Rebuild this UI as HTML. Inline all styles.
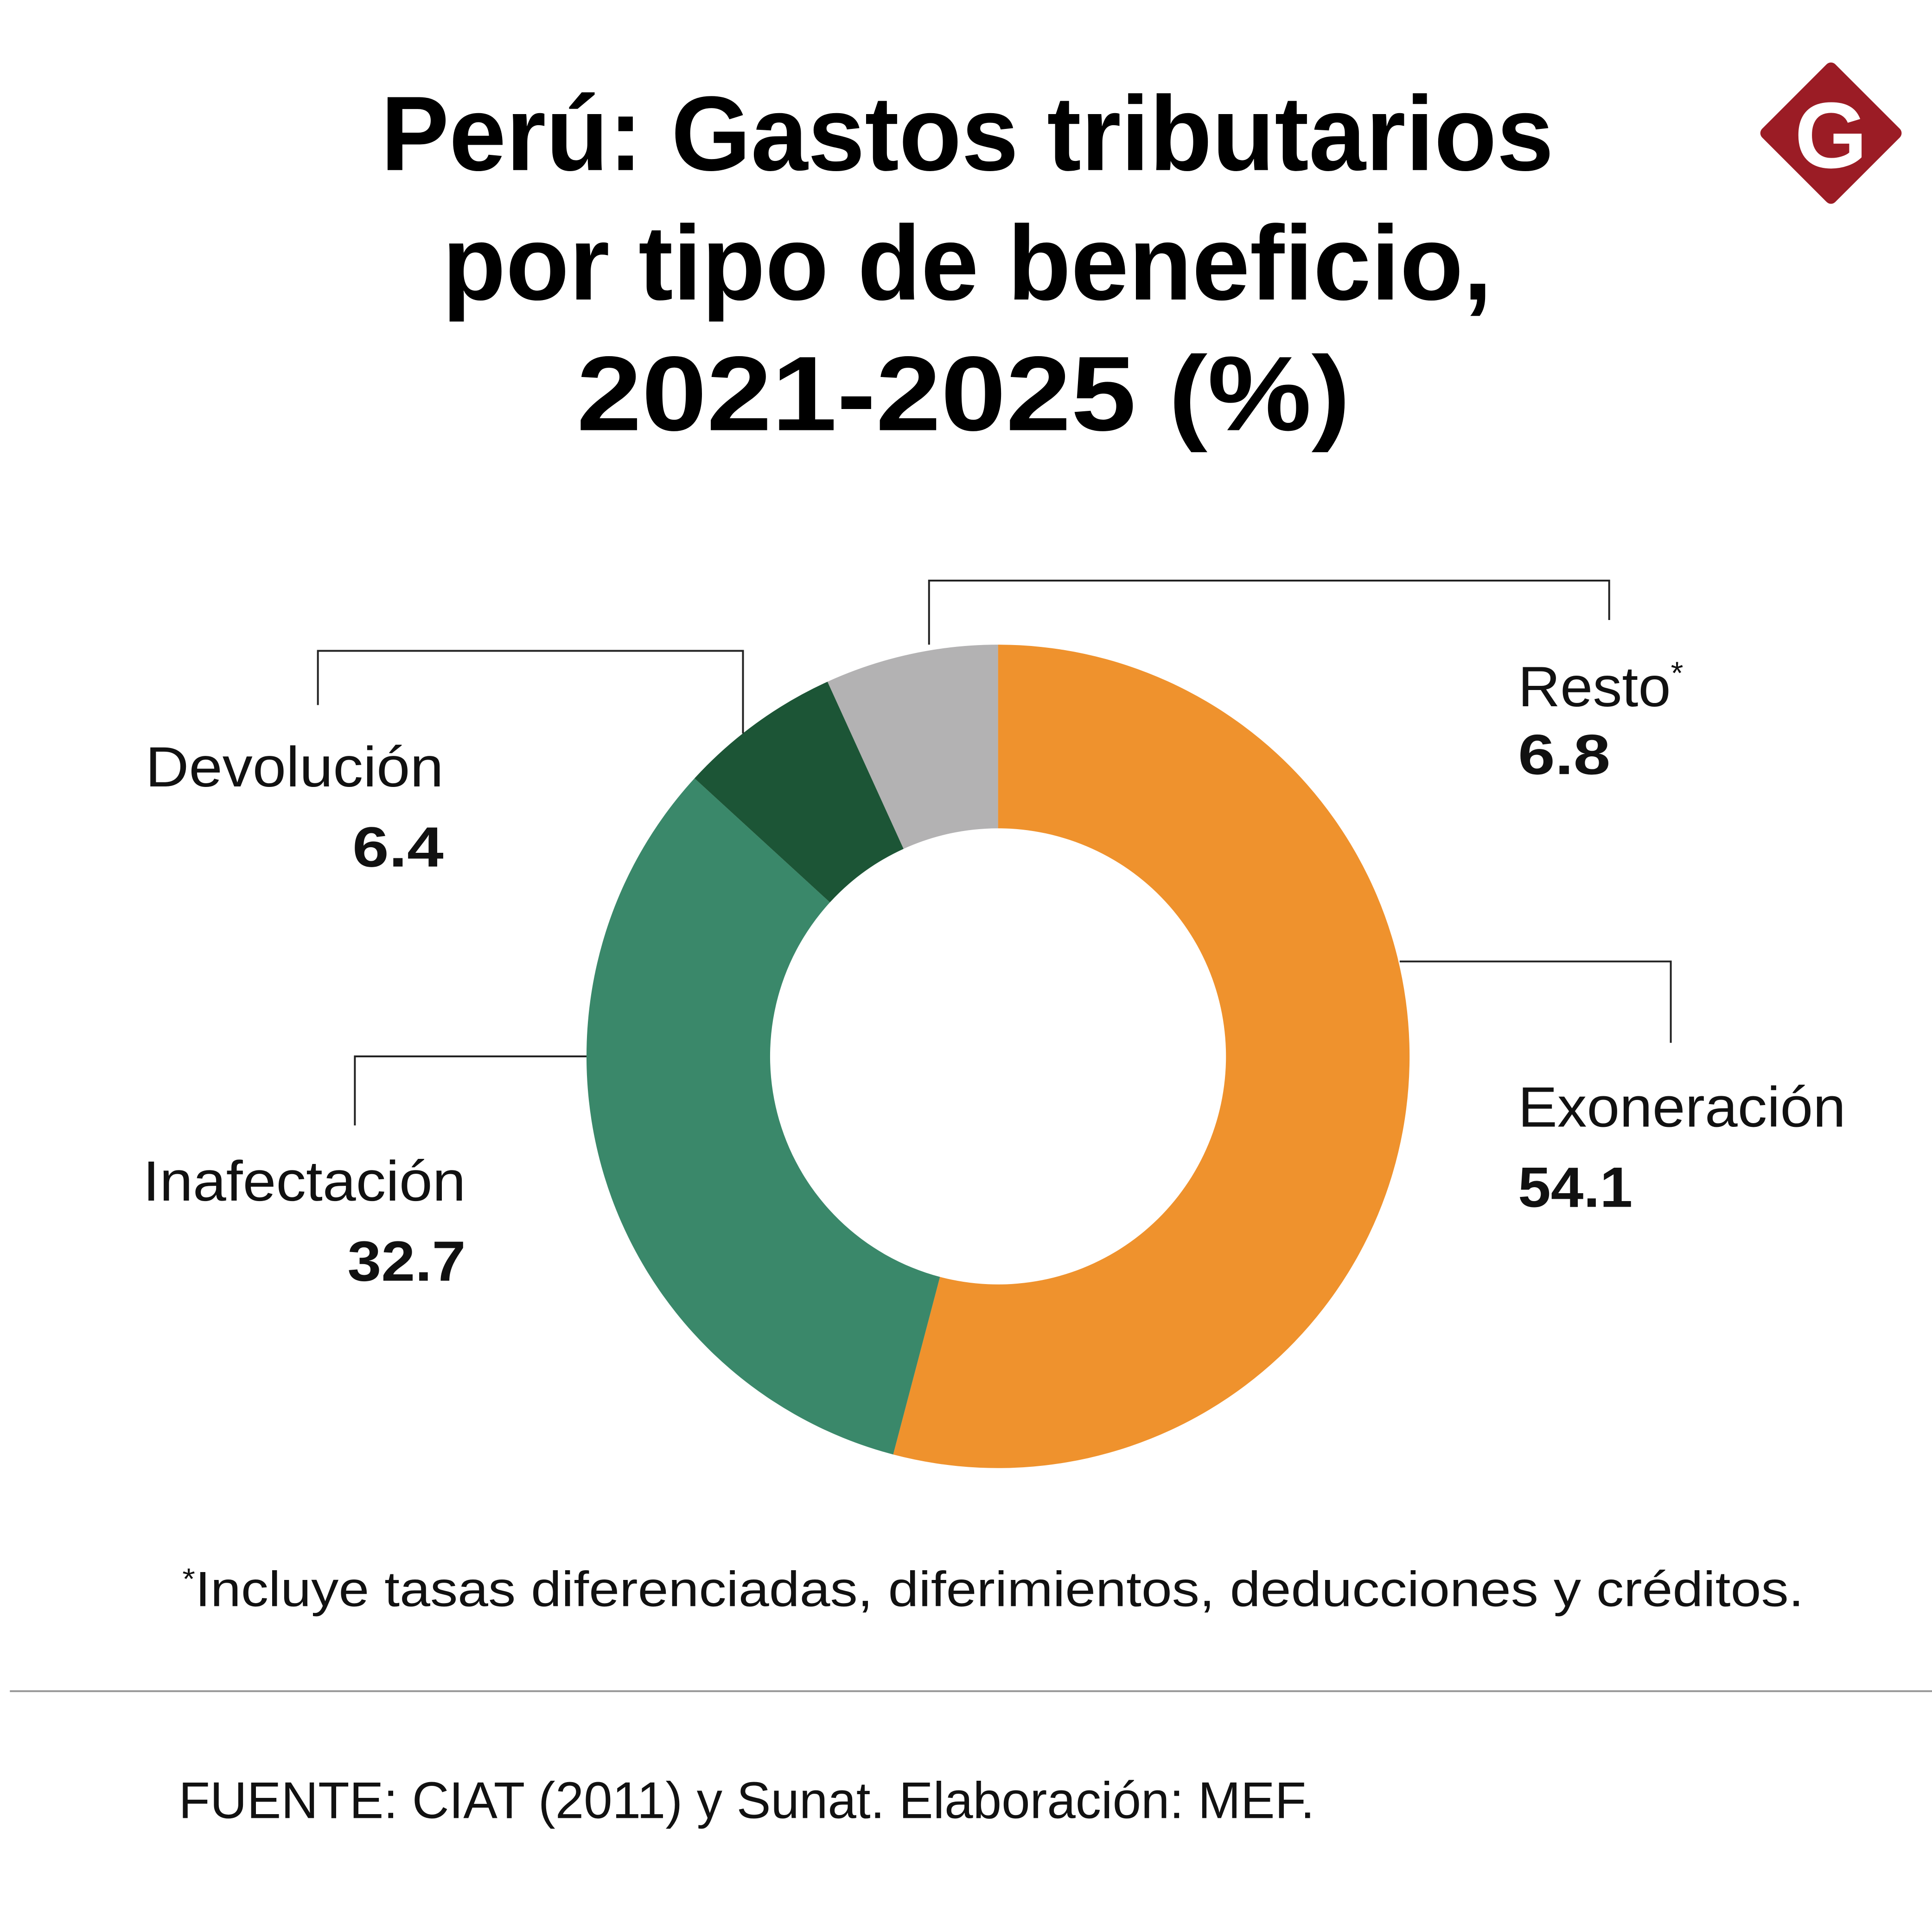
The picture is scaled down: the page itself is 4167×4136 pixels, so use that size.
<!DOCTYPE html>
<html><head><meta charset="utf-8"><style>
html,body{margin:0;padding:0;background:#fff;}
svg{display:block;}
text{font-family:"Liberation Sans",sans-serif;}
</style></head><body>
<svg width="4167" height="4136" viewBox="0 0 1568 1556" preserveAspectRatio="none" xmlns="http://www.w3.org/2000/svg">
<rect width="1568" height="1556" fill="#fff"/>
<g font-weight="bold" font-size="86" text-anchor="middle" fill="#000">
<text x="785" y="138" textLength="952" lengthAdjust="spacingAndGlyphs">Perú: Gastos tributarios</text>
<text x="785" y="243" textLength="852" lengthAdjust="spacingAndGlyphs">por tipo de beneficio,</text>
<text x="782" y="349" textLength="628" lengthAdjust="spacingAndGlyphs">2021-2025 (%)</text>
</g>
<g>
<rect x="1444" y="66" width="84" height="84" rx="5" fill="#9b1c25" transform="rotate(45 1486 108)"/>
<text x="1486" y="136" text-anchor="middle" font-family="Liberation Serif,serif" font-weight="bold" font-size="76" fill="#fff">G</text>
</g>
<g id="donut"></g>
<g fill="none" stroke="#222" stroke-width="1.5">
<polyline points="754,523 754,471 1306,471 1306,503"/>
<polyline points="603,595 603,528 258,528 258,572"/>
<polyline points="1136,780 1356,780 1356,846"/>
<polyline points="476,857 288,857 288,913"/>
</g>
<g fill="#111">
<text x="1232" y="573" font-size="46"><tspan textLength="124" lengthAdjust="spacingAndGlyphs">Resto</tspan><tspan font-size="26" dy="-18">*</tspan></text>
<text x="1232" y="628" font-size="46" font-weight="bold" textLength="75" lengthAdjust="spacingAndGlyphs">6.8</text>
<text x="360" y="638" font-size="46" text-anchor="end" textLength="242" lengthAdjust="spacingAndGlyphs">Devolución</text>
<text x="360" y="703" font-size="46" font-weight="bold" text-anchor="end" textLength="74" lengthAdjust="spacingAndGlyphs">6.4</text>
<text x="1232" y="914" font-size="46" textLength="266" lengthAdjust="spacingAndGlyphs">Exoneración</text>
<text x="1232" y="979" font-size="46" font-weight="bold" textLength="93" lengthAdjust="spacingAndGlyphs">54.1</text>
<text x="378" y="974" font-size="46" text-anchor="end" textLength="262" lengthAdjust="spacingAndGlyphs">Inafectación</text>
<text x="378" y="1039" font-size="46" font-weight="bold" text-anchor="end" textLength="96" lengthAdjust="spacingAndGlyphs">32.7</text>
</g>
<text x="148" y="1303" font-size="40" fill="#111" textLength="1316" lengthAdjust="spacingAndGlyphs"><tspan font-size="24" dy="-14">*</tspan><tspan dy="14">Incluye tasas diferenciadas, diferimientos, deducciones y créditos.</tspan></text>
<line x1="8" y1="1372" x2="1568" y2="1372" stroke="#999" stroke-width="1.5"/>
<text x="145" y="1475" font-size="42" fill="#111" textLength="922" lengthAdjust="spacingAndGlyphs">FUENTE: CIAT (2011) y Sunat. Elaboración: MEF.</text>
</svg>
<script>
const categories = ["Exoneración","Inafectación","Devolución","Resto"];
const values = [54.1, 32.7, 6.4, 6.8];
const colors = ["#ef922d","#3a886a","#1c5536","#b3b2b3"];
const cx=810, cy=857, R=334, r=185;
const g=document.getElementById('donut');
const total=values.reduce((a,b)=>a+b,0);
function pt(rad,a){return [cx+rad*Math.sin(a), cy-rad*Math.cos(a)];}
let acc=0;
values.forEach((v,i)=>{
  const a0=acc/total*2*Math.PI; acc+=v; const a1=acc/total*2*Math.PI;
  const large=(a1-a0)>Math.PI?1:0;
  const p0=pt(R,a0),p1=pt(R,a1),q1=pt(r,a1),q0=pt(r,a0);
  const d=`M${p0} A${R},${R} 0 ${large} 1 ${p1} L${q1} A${r},${r} 0 ${large} 0 ${q0} Z`;
  const el=document.createElementNS('http://www.w3.org/2000/svg','path');
  el.setAttribute('d',d);
  el.setAttribute('fill',colors[i]);
  
  
  g.appendChild(el);
});
</script>
</body></html>
